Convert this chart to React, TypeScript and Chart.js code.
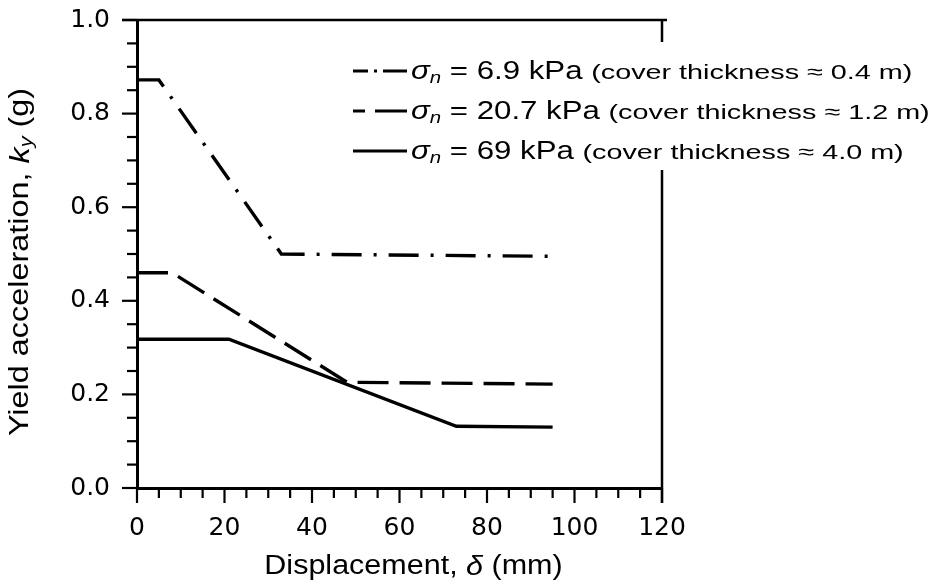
import React, { useEffect, useRef } from "react";
import { Chart, registerables } from "chart.js";

Chart.register(...registerables);

// ---- Data ----
const s1X = [0, 5, 33, 95];
const s1Y = [0.872, 0.872, 0.5, 0.495];
const s2X = [0, 8, 48, 95];
const s2Y = [0.46, 0.46, 0.226, 0.222];
const s3X = [0, 21, 73, 95];
const s3Y = [0.318, 0.318, 0.132, 0.13];

const legendMain = ["6.9 kPa", "20.7 kPa", "69 kPa"];
const legendNote = [
  "(cover thickness \u2248 0.4 m)",
  "(cover thickness \u2248 1.2 m)",
  "(cover thickness \u2248 4.0 m)",
];
const xTitle = ["Displacement, ", "\u03b4", " (mm)"];
const yTitle = ["Yield acceleration, ", "k", "y", " (g)"];

const FONT = "'Liberation Sans', Arial, sans-serif";
const TICKFONT = "'DejaVu Sans', sans-serif";

const DASHDOT = [30, 12, 3, 12];
const DASHED = [31, 11];

function pts(xs: number[], ys: number[]) {
  return xs.map((x, i) => ({ x, y: ys[i] }));
}

type Part = { t: string; size: number; italic?: boolean; dy?: number; sx?: number };

function partFont(p: Part) {
  return `${p.italic ? "italic " : ""}${p.size}px ${FONT}`;
}
function drawParts(ctx: CanvasRenderingContext2D, parts: Part[], x: number, y: number) {
  let cx = x;
  for (const p of parts) {
    const sx = p.sx || 1;
    ctx.font = partFont(p);
    ctx.save();
    ctx.translate(cx, y + (p.dy || 0));
    ctx.scale(sx, 1);
    ctx.fillText(p.t, 0, 0);
    ctx.restore();
    cx += ctx.measureText(p.t).width * sx;
  }
  return cx - x;
}
function measureParts(ctx: CanvasRenderingContext2D, parts: Part[]) {
  let w = 0;
  for (const p of parts) {
    ctx.font = partFont(p);
    w += ctx.measureText(p.t).width * (p.sx || 1);
  }
  return w;
}

const decorPlugin = {
  id: "decor",
  afterDraw(chart: any) {
    const ctx: CanvasRenderingContext2D = chart.ctx;
    const { left, right, top, bottom } = chart.chartArea;
    const xs = chart.scales.x;
    const ys = chart.scales.y;
    ctx.save();
    ctx.strokeStyle = "#000";
    ctx.fillStyle = "#000";
    ctx.lineCap = "butt";
    ctx.setLineDash([]);

    // tick marks
    ctx.lineWidth = 2.2;
    for (const t of xs.ticks) {
      const px = xs.getPixelForValue(t.value);
      const major = Math.round(t.value) % 20 === 0;
      ctx.beginPath();
      ctx.moveTo(px, bottom);
      ctx.lineTo(px, bottom + (major ? 15 : 10));
      ctx.stroke();
    }
    for (const t of ys.ticks) {
      const py = ys.getPixelForValue(t.value);
      const major = Math.abs(Math.round(t.value * 100) % 20) === 0;
      ctx.beginPath();
      ctx.moveTo(left, py);
      ctx.lineTo(left - (major ? 15 : 10), py);
      ctx.stroke();
    }

    // top and right frame
    ctx.lineWidth = 2.5;
    ctx.beginPath();
    ctx.moveTo(left - 15, top);
    ctx.lineTo(right + 5, top);
    ctx.moveTo(right, top);
    ctx.lineTo(right, bottom + 15);
    ctx.stroke();

    // legend background (hides the frame behind text)
    const rowY = [71, 111, 151];
    const symX0 = 353;
    const symX1 = 407;
    const textX = 411;
    ctx.fillStyle = "#fff";
    ctx.fillRect(symX0 - 4, 42, chart.width - symX0 + 4, 128);

    const dashes = [[15, 6, 3, 6, 40], [12, 10, 60], []];
    ctx.fillStyle = "#000";
    ctx.textBaseline = "middle";
    ctx.textAlign = "left";
    for (let i = 0; i < 3; i++) {
      const y = rowY[i];
      ctx.lineWidth = 3.2;
      ctx.setLineDash(dashes[i]);
      ctx.beginPath();
      ctx.moveTo(symX0, y);
      ctx.lineTo(symX1, y);
      ctx.stroke();
      ctx.setLineDash([]);
      const parts: Part[] = [
        { t: "\u03c3", size: 26, italic: true, sx: 1.2 },
        { t: "n", size: 17, italic: true, dy: 6, sx: 1.2 },
        { t: " = " + legendMain[i] + " ", size: 26, sx: 1.2 },
        { t: legendNote[i], size: 21, sx: 1.37, dy: 1 },
      ];
      drawParts(ctx, parts, textX, y + 1);
    }

    // axis titles
    ctx.textBaseline = "middle";
    const XS = 1.13;
    const xp: Part[] = [
      { t: xTitle[0], size: 27, sx: XS },
      { t: xTitle[1], size: 27, italic: true, sx: XS },
      { t: xTitle[2], size: 27, sx: XS },
    ];
    const xw = measureParts(ctx, xp);
    const xc = (left + right) / 2 + 14;
    drawParts(ctx, xp, xc - xw / 2, 567);

    const YS = 1.2;
    const yp: Part[] = [
      { t: yTitle[0], size: 27, sx: YS },
      { t: yTitle[1], size: 27, italic: true, sx: YS },
      { t: yTitle[2], size: 18, italic: true, dy: 6, sx: YS },
      { t: yTitle[3], size: 27, sx: YS },
    ];
    const yw = measureParts(ctx, yp);
    ctx.translate(21, (top + bottom) / 2 + 8);
    ctx.rotate(-Math.PI / 2);
    drawParts(ctx, yp, -yw / 2, 0);
    ctx.restore();
  },
};

export default function App() {
  const ref = useRef<HTMLCanvasElement | null>(null);
  useEffect(() => {
    document.body.style.margin = "0";
    const canvas = ref.current!;
    const chart = new Chart(canvas, {
      type: "line",
      data: {
        datasets: [
          {
            label: "σn = 6.9 kPa",
            data: pts(s1X, s1Y),
            borderColor: "#000",
            borderWidth: 3.4,
            borderDash: DASHDOT,
            pointRadius: 0,
            tension: 0,
            fill: false,
          },
          {
            label: "σn = 20.7 kPa",
            data: pts(s2X, s2Y),
            borderColor: "#000",
            borderWidth: 3.4,
            borderDash: DASHED,
            pointRadius: 0,
            tension: 0,
            fill: false,
          },
          {
            label: "σn = 69 kPa",
            data: pts(s3X, s3Y),
            borderColor: "#000",
            borderWidth: 3.4,
            pointRadius: 0,
            tension: 0,
            fill: false,
          },
        ],
      },
      options: {
        animation: false,
        responsive: false,
        devicePixelRatio: 1,
        layout: { padding: { top: 20, right: 274, left: 0, bottom: 0 } },
        plugins: {
          legend: { display: false },
          tooltip: { enabled: false },
          title: { display: false },
        },
        scales: {
          x: {
            type: "linear",
            min: 0,
            max: 120,
            afterFit: (s: any) => {
              s.height = 97;
              s.paddingLeft = 0;
              s.paddingRight = 0;
            },
            ticks: {
              stepSize: 5,
              autoSkip: false,
              maxRotation: 0,
              padding: 25,
              color: "#000",
              font: { family: TICKFONT, size: 25 },
              callback: (v: any) => (Math.round(v) % 20 === 0 ? String(v) : ""),
            },
            grid: { display: false, drawTicks: false },
            border: { display: true, color: "#000", width: 3 },
          },
          y: {
            type: "linear",
            min: 0,
            max: 1,
            afterFit: (s: any) => {
              s.width = 137;
              s.paddingTop = 0;
              s.paddingBottom = 0;
            },
            ticks: {
              stepSize: 0.05,
              autoSkip: false,
              padding: 27,
              color: "#000",
              font: { family: TICKFONT, size: 25 },
              callback: (v: any) => {
                const n = Math.round(v * 100);
                return n % 20 === 0 ? (n / 100).toFixed(1) : "";
              },
            },
            grid: { display: false, drawTicks: false },
            border: { display: true, color: "#000", width: 3 },
          },
        },
      },
      plugins: [decorPlugin],
    });
    return () => chart.destroy();
  }, []);
  return (
    <div style={{ width: 936, height: 585, background: "#fff" }}>
      <canvas ref={ref} width={936} height={585} />
    </div>
  );
}
